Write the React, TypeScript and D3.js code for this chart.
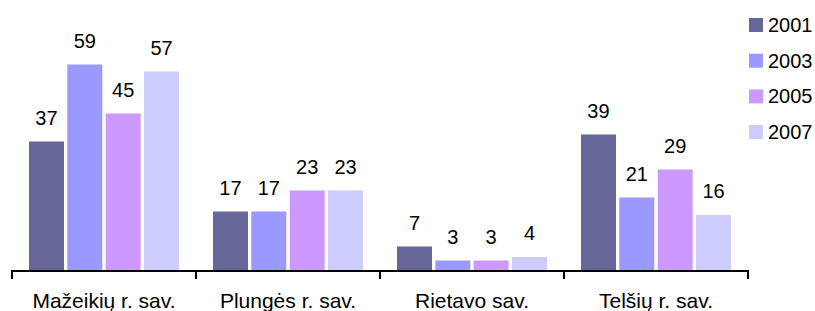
import * as d3 from "d3";

const categories = ["Mažeikių r. sav.", "Plungės r. sav.", "Rietavo sav.", "Telšių r. sav."];
const years = ["2001", "2003", "2005", "2007"];
const colors = ["#666699", "#9999FF", "#CC99FF", "#CCCCFF"];
const values2001 = [37, 17, 7, 39];
const values2003 = [59, 17, 3, 21];
const values2005 = [45, 23, 3, 29];
const values2007 = [57, 23, 4, 16];

const series = [values2001, values2003, values2005, values2007];

const W = 815;
const H = 311;
const font = "'Liberation Sans', Arial, sans-serif";

export default function App() {
  const x = d3.scaleBand<string>().domain(categories).range([12, 748]);
  const xi = d3
    .scaleBand<string>()
    .domain(years)
    .range([17, x.bandwidth() - 17])
    .paddingInner(0.087);
  const y = d3.scaleLinear().domain([0, 70]).range([271, 26]);

  const ticks = [...categories.map((c) => x(c)!), x.range()[1]];

  return (
    <svg
      width={W}
      height={H}
      style={{ position: "absolute", left: 0, top: 0, background: "#fff" }}
      fontFamily={font}
    >
      {categories.map((cat, ci) => (
        <g key={cat} transform={`translate(${x(cat)},0)`}>
          {years.map((yr, si) => {
            const v = series[si][ci];
            const bx = xi(yr)!;
            return (
              <g key={yr}>
                <rect
                  x={bx}
                  y={y(v)}
                  width={xi.bandwidth()}
                  height={y(0) - y(v)}
                  fill={colors[si]}
                />
                <text
                  x={bx + xi.bandwidth() / 2}
                  y={y(v) - 17}
                  textAnchor="middle"
                  fontSize={20}
                  fill="#000"
                >
                  {v}
                </text>
              </g>
            );
          })}
          <text
            x={x.bandwidth() / 2}
            y={308}
            textAnchor="middle"
            fontSize={21}
            fill="#000"
          >
            {cat}
          </text>
        </g>
      ))}

      {/* axis */}
      <line x1={x.range()[0]} x2={x.range()[1]} y1={271} y2={271} stroke="#000" strokeWidth={2} />
      {ticks.map((t, i) => (
        <line key={i} x1={t} x2={t} y1={270} y2={279} stroke="#000" strokeWidth={2} />
      ))}

      {/* legend */}
      {years.map((yr, i) => (
        <g key={yr} transform={`translate(749,${18 + i * 35.7})`}>
          <rect width={14} height={14} fill={colors[i]} />
          <text x={19} y={14} fontSize={20} fill="#000">
            {yr}
          </text>
        </g>
      ))}
    </svg>
  );
}
